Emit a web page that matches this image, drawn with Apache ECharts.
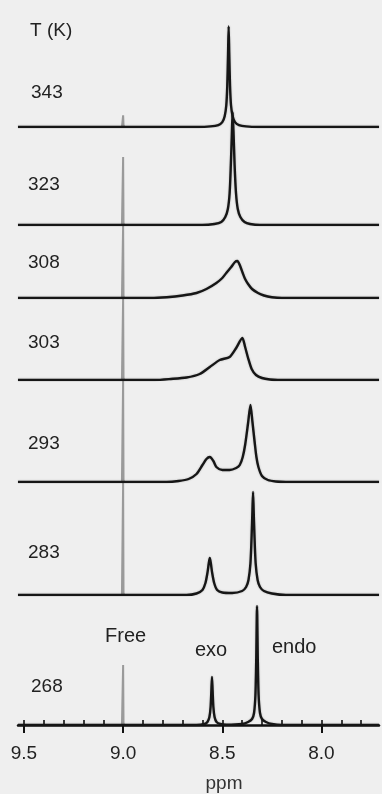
<!DOCTYPE html>
<html>
<head>
<meta charset="utf-8">
<script src="https://cdn.jsdelivr.net/npm/echarts@6/dist/echarts.min.js"></script>
<style>
html,body{margin:0;padding:0;background:#efefef;}
#chart{width:382px;height:794px;}
</style>
</head>
<body>
<div id="chart"></div>
<script>
// ---- data (ppm, intensity) ----
const temps = ['343', '323', '308', '303', '293', '283', '268'];
const spec343 = [[9.53,0],[8.62,0],[8.56,0.6],[8.52,2],[8.50,5],[8.488,11],[8.48,22],[8.475,42],[8.471,75],[8.468,103],[8.465,75],[8.461,42],[8.456,22],[8.448,11],[8.436,5],[8.416,2],[8.38,0.6],[8.32,0],[7.71,0]];
const spec323 = [[9.53,0],[8.60,0],[8.54,1],[8.505,3],[8.485,8],[8.472,16],[8.463,32],[8.457,60],[8.452,90],[8.448,113],[8.443,90],[8.438,60],[8.431,32],[8.422,16],[8.409,8],[8.388,3],[8.36,1],[8.31,0],[7.71,0]];
const spec308 = [[9.53,0],[8.86,0],[8.78,0.8],[8.70,2.5],[8.63,5],[8.58,9],[8.53,15],[8.50,20],[8.48,25],[8.455,31],[8.436,36],[8.424,37],[8.41,32],[8.397,25],[8.385,19],[8.37,14],[8.35,9],[8.32,5],[8.29,2.5],[8.25,0.8],[8.20,0],[7.71,0]];
const spec303 = [[9.53,0],[8.84,0],[8.76,1],[8.68,2.5],[8.614,6],[8.563,13],[8.513,20],[8.463,23],[8.43,32],[8.399,42],[8.385,33],[8.37,22],[8.352,11],[8.33,5],[8.30,2],[8.26,0.5],[8.22,0],[7.71,0]];
const spec293 = [[9.53,0],[8.78,0],[8.72,1],[8.67,3],[8.63,8],[8.60,17],[8.58,23],[8.563,25],[8.545,21],[8.53,15],[8.50,12],[8.463,12],[8.43,14],[8.412,17],[8.397,25],[8.385,37],[8.37,59],[8.358,77],[8.348,60],[8.337,40],[8.328,25],[8.318,15],[8.30,6],[8.27,2],[8.23,0.5],[8.18,0],[7.71,0]];
const spec283 = [[9.53,0],[8.68,0],[8.63,1.5],[8.60,5],[8.585,12],[8.575,22],[8.568,32],[8.563,37],[8.558,32],[8.551,22],[8.541,12],[8.526,5],[8.50,2.5],[8.45,2],[8.40,4],[8.38,8],[8.368,15],[8.358,32],[8.352,60],[8.348,85],[8.345,103],[8.342,85],[8.338,60],[8.332,32],[8.322,15],[8.31,8],[8.29,4],[8.25,1.5],[8.18,0],[7.71,0]];
const spec268 = [[9.53,0],[8.63,0],[8.59,1],[8.575,3],[8.565,8],[8.559,18],[8.555,35],[8.552,48],[8.549,35],[8.545,18],[8.539,8],[8.529,3],[8.51,1],[8.48,0.3],[8.40,1],[8.37,3],[8.35,6],[8.34,12],[8.333,30],[8.329,65],[8.325,119],[8.321,65],[8.317,30],[8.31,12],[8.30,6],[8.28,3],[8.25,1],[8.2,0],[7.71,0]];
const freePpm = 9.0;
const freeHeights = [12, 68, 73, 82, 102, 113, 60];
const ppmTicks = [9.5, 9.0, 8.5, 8.0];
const minorTicks = [9.5, 9.4, 9.3, 9.2, 9.1, 9.0, 8.9, 8.8, 8.7, 8.6, 8.5, 8.4, 8.3, 8.2, 8.1, 8.0, 7.9, 7.8];
const peakLabels = ['Free', 'exo', 'endo'];

// ---- layout ----
const spectra = [spec343, spec323, spec308, spec303, spec293, spec283, spec268];
const baselines = [127, 225, 298, 380, 482, 595, 725];
const labelY = [93, 185, 263, 343, 444, 553, 687];
const labelX = [31, 28, 28, 28, 28, 28, 31];
const gridH = 130;
const FONT = '"Liberation Sans", Arial, sans-serif';
const n = spectra.length;

const grids = baselines.map(b => ({ left: 18, right: 3, top: b - gridH, height: gridH }));
const xAxes = baselines.map((b, i) => {
  const last = i === n - 1;
  return {
    gridIndex: i, type: 'value', min: 7.71, max: 9.53, inverse: true,
    show: last,
    splitLine: { show: false },
    axisLine: { show: last, onZero: false, lineStyle: { color: '#111', width: 2.5 } },
    axisTick: { show: last, customValues: ppmTicks, length: 8, lineStyle: { color: '#111', width: 2 } },
    axisLabel: { show: last, customValues: ppmTicks, formatter: v => Number(v).toFixed(1),
      margin: 19, fontSize: 19, color: '#222', fontFamily: FONT },
    name: last ? 'ppm' : '',
    nameLocation: 'middle', nameGap: 49,
    nameTextStyle: { fontSize: 19, color: '#333', fontFamily: FONT, padding: [0, 0, 0, 51] }
  };
});
xAxes.push({
  gridIndex: n - 1, type: 'value', min: 7.71, max: 9.53, inverse: true,
  splitLine: { show: false }, axisLine: { show: false },
  axisTick: { show: true, customValues: minorTicks, length: 5, lineStyle: { color: '#111', width: 1.6 } },
  axisLabel: { show: false }
});
const yAxes = baselines.map((b, i) => ({ gridIndex: i, type: 'value', min: 0, max: gridH, show: false }));

const series = [];
spectra.forEach((d, i) => {
  const h = freeHeights[i];
  series.push({
    type: 'line', xAxisIndex: i, yAxisIndex: i, z: 1, silent: true,
    data: [[freePpm + 0.006, 0], [freePpm + 0.002, 2], [freePpm, h], [freePpm - 0.002, 2], [freePpm - 0.006, 0]],
    showSymbol: false, smooth: false,
    lineStyle: { color: '#9a9a9a', width: 2 }
  });
  series.push({
    type: 'line', name: temps[i] + ' K', xAxisIndex: i, yAxisIndex: i, z: 3, silent: true,
    data: d, showSymbol: false, smooth: 0.25,
    lineStyle: { color: '#161616', width: 2.4, shadowColor: 'rgba(0,0,0,0.25)', shadowBlur: 2 }
  });
});

const graphic = [];
graphic.push({ type: 'text', x: 30, y: 31, style: { text: 'T (K)', fontSize: 19, fill: '#222', fontFamily: FONT, verticalAlign: 'middle' } });
temps.forEach((t, i) => {
  graphic.push({ type: 'text', x: labelX[i], y: labelY[i], style: { text: t, fontSize: 19, fill: '#222', fontFamily: FONT, verticalAlign: 'middle' } });
});
const peakLabelPos = [[105, 636], [195, 650], [272, 647]];
peakLabels.forEach((t, i) => {
  graphic.push({ type: 'text', x: peakLabelPos[i][0], y: peakLabelPos[i][1], style: { text: t, fontSize: 20, fill: '#222', fontFamily: FONT, verticalAlign: 'middle' } });
});

const chart = echarts.init(document.getElementById('chart'), null, { renderer: 'canvas' });
chart.setOption({
  backgroundColor: '#efefef',
  animation: false,
  grid: grids,
  xAxis: xAxes,
  yAxis: yAxes,
  series: series,
  graphic: graphic
});
</script>
</body>
</html>
